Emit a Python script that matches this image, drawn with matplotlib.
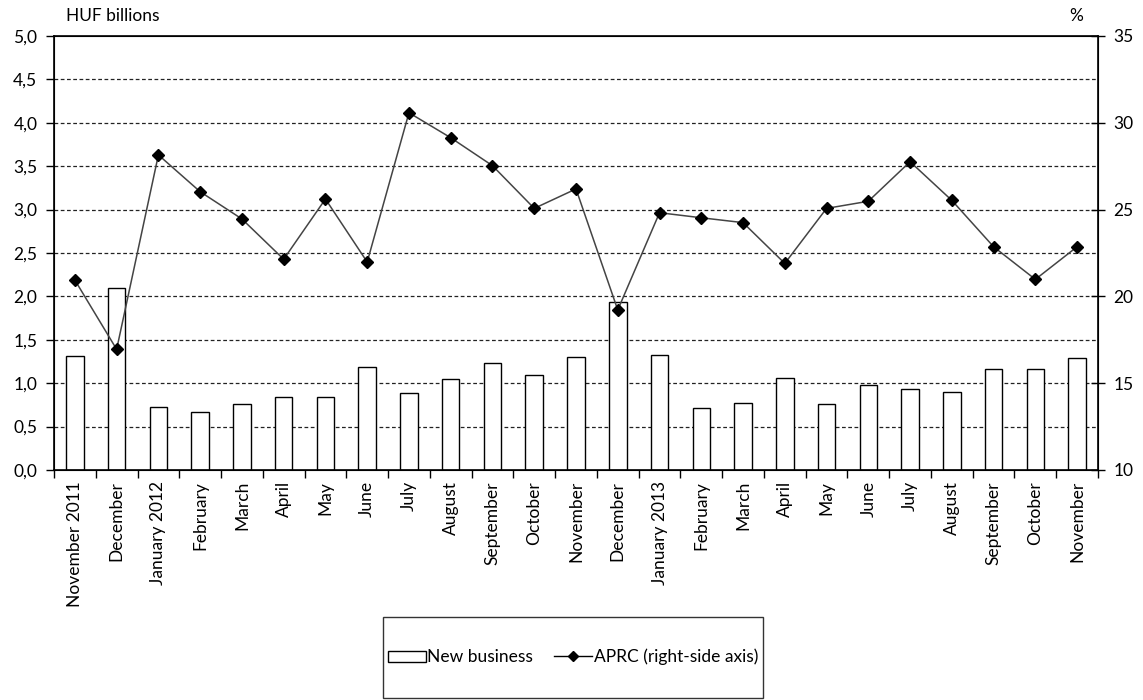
import matplotlib
matplotlib.use("Agg")
import matplotlib.pyplot as plt
import numpy as np
from matplotlib.patches import Rectangle
from matplotlib.lines import Line2D
from matplotlib.ticker import MultipleLocator, FixedLocator

plt.rcParams['font.family'] = ['Lato', 'DejaVu Sans']

categories = ["November 2011", "December", "January 2012", "February", "March", "April",
              "May", "June", "July", "August", "September", "October", "November",
              "December", "January 2013", "February", "March", "April", "May", "June",
              "July", "August", "September", "October", "November"]
new_business = [1.31, 2.10, 0.73, 0.67, 0.76, 0.845, 0.845, 1.19, 0.89, 1.045, 1.236, 1.09,
                1.305, 1.93, 1.32, 0.72, 0.77, 1.06, 0.757, 0.976, 0.933, 0.90, 1.16, 1.16, 1.29]
aprc = [20.94, 16.95, 28.15, 26.03, 24.46, 22.14, 25.61, 21.98, 30.58, 29.14, 27.53, 25.07,
        26.19, 19.22, 24.82, 24.53, 24.25, 21.9, 25.07, 25.48, 27.76, 25.53, 22.86, 20.98, 22.86]
left_ticks = [0.0, 0.5, 1.0, 1.5, 2.0, 2.5, 3.0, 3.5, 4.0, 4.5, 5.0]
right_ticks = [10, 15, 20, 25, 30, 35]

W, H = 1143, 700
fig = plt.figure(figsize=(W/100, H/100), dpi=100)
ax = fig.add_axes([54/W, 1 - 470/H, (1098-54)/W, (470-36)/H])
ax2 = ax.twinx()

x = np.arange(len(categories))
fs = 12.5

ax.set_xlim(-0.5, len(categories) - 0.5)
ax.set_ylim(0, 5)
for yv in left_ticks[1:-1]:
    ax.axhline(yv, color='#222222', lw=0.9, ls=(0, (3, 2)), zorder=0)
ax.bar(x, new_business, width=0.42, color='white', edgecolor='black', lw=1.0, zorder=2)

ax.set_yticks(left_ticks)
ax.set_yticklabels([f"{v:.1f}".replace('.', ',') for v in left_ticks], fontsize=fs)
ax.tick_params(axis='y', direction='out', length=6, width=1, pad=6)
ax.set_xticks(x)
ax.set_xticklabels(categories, rotation=90, fontsize=fs)
ax.tick_params(axis='x', which='major', length=0, pad=8)
ax.xaxis.set_minor_locator(FixedLocator(np.arange(-0.5, len(categories), 1.0)))
ax.tick_params(axis='x', which='minor', direction='out', length=6, width=1)
for s in ['left', 'bottom', 'top', 'right']:
    ax.spines[s].set_linewidth(1.2)
ax.spines['top'].set_color('black')

ax2.set_ylim(10, 35)
ax2.plot(x, aprc, color='#444444', lw=1.1, marker='D', markersize=6.5,
         markerfacecolor='black', markeredgecolor='black', zorder=3)
ax2.set_yticks(right_ticks)
ax2.set_yticklabels([str(v) for v in right_ticks], fontsize=fs)
ax2.tick_params(axis='y', direction='inout', length=10, width=1, pad=6)
ax.set_zorder(ax2.get_zorder() - 1) if False else None

fig.text(66/W, 1 - 16/H, "HUF billions", fontsize=fs, ha='left', va='center')
fig.text(1076/W, 1 - 16/H, "%", fontsize=fs, ha='center', va='center')

# legend box
fig.add_artist(Rectangle((383/W, 2/H), 380/W, 81/H, transform=fig.transFigure,
                         fill=False, edgecolor='#333333', lw=1.0))
handles = [Rectangle((0, 0), 1, 1, facecolor='white', edgecolor='black', lw=1.0),
           Line2D([], [], color='black', lw=1.0, marker='D', markersize=5,
                  markerfacecolor='black')]
fig.legend(handles, ["New business", "APRC (right-side axis)"], loc='center',
           bbox_to_anchor=(573/W, 43/H), ncol=2, frameon=False, fontsize=fs,
           handlelength=2.2, handletextpad=0.1, columnspacing=1.2, handleheight=0.6)

fig.savefig("out.png", dpi=100)
